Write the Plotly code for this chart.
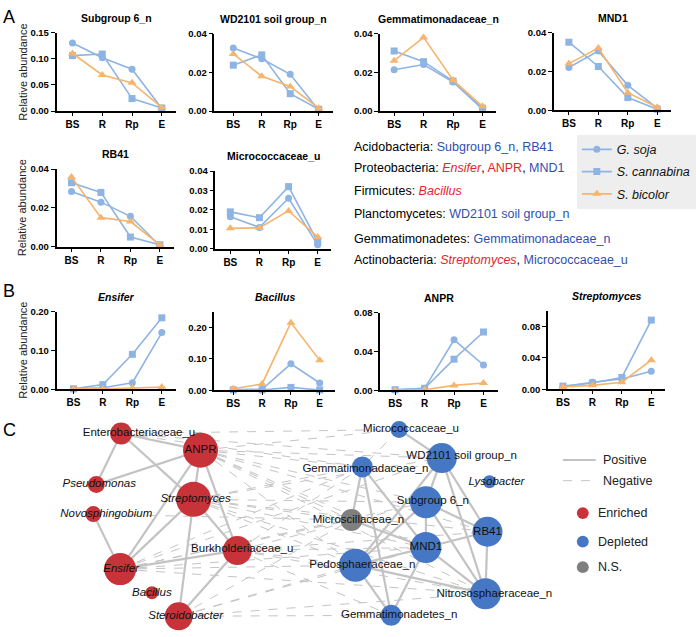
import plotly.graph_objects as go

W, H = 696, 637
FONT = "Arial, Liberation Sans, sans-serif"

# ---------------- data ----------------
stages = ["BS", "R", "Rp", "E"]
species = ["<i>G. soja</i>", "<i>S. cannabina</i>", "<i>S. bicolor</i>"]

subgroup6_soja = [0.130, 0.102, 0.080, 0.005]
subgroup6_cann = [0.106, 0.109, 0.024, 0.006]
subgroup6_bic = [0.110, 0.069, 0.054, 0.007]

wd2101_soja = [0.0325, 0.027, 0.019, 0.0005]
wd2101_cann = [0.0237, 0.029, 0.009, 0.001]
wd2101_bic = [0.0295, 0.018, 0.0127, 0.0015]

gemmaceae_soja = [0.0213, 0.024, 0.015, 0.001]
gemmaceae_cann = [0.031, 0.0255, 0.0155, 0.0015]
gemmaceae_bic = [0.026, 0.038, 0.016, 0.0025]

mnd1_soja = [0.022, 0.0305, 0.0128, 0.001]
mnd1_cann = [0.035, 0.0225, 0.0065, 0.0005]
mnd1_bic = [0.024, 0.032, 0.009, 0.0015]

rb41_soja = [0.0285, 0.023, 0.0157, 0.0005]
rb41_cann = [0.033, 0.028, 0.005, 0.001]
rb41_bic = [0.036, 0.015, 0.013, 0.001]

micro_soja = [0.0165, 0.011, 0.026, 0.002]
micro_cann = [0.019, 0.016, 0.032, 0.0035]
micro_bic = [0.0105, 0.0108, 0.0195, 0.006]

ensifer_soja = [0.001, 0.004, 0.017, 0.146]
ensifer_cann = [0.001, 0.012, 0.090, 0.184]
ensifer_bic = [0.001, 0.001, 0.003, 0.006]

bacillus_soja = [0.002, 0.003, 0.084, 0.023]
bacillus_cann = [0.001, 0.001, 0.009, 0.001]
bacillus_bic = [0.005, 0.020, 0.215, 0.095]

anpr_soja = [0.0005, 0.002, 0.052, 0.026]
anpr_cann = [0.0005, 0.002, 0.032, 0.060]
anpr_bic = [0.0005, 0.0005, 0.005, 0.0075]

strepto_soja = [0.003, 0.009, 0.013, 0.023]
strepto_cann = [0.004, 0.008, 0.015, 0.088]
strepto_bic = [0.003, 0.005, 0.009, 0.037]

panel_titles = ["<b>Subgroup 6_n</b>", "<b>WD2101 soil group_n</b>", "<b>Gemmatimonadaceae_n</b>",
                "<b>MND1</b>", "<b>RB41</b>", "<b>Micrococcaceae_u</b>",
                "<b><i>Ensifer</i></b>", "<b><i>Bacillus</i></b>", "<b>ANPR</b>",
                "<b><i>Streptomyces</i></b>"]
panel_series = [
    (subgroup6_soja, subgroup6_cann, subgroup6_bic),
    (wd2101_soja, wd2101_cann, wd2101_bic),
    (gemmaceae_soja, gemmaceae_cann, gemmaceae_bic),
    (mnd1_soja, mnd1_cann, mnd1_bic),
    (rb41_soja, rb41_cann, rb41_bic),
    (micro_soja, micro_cann, micro_bic),
    (ensifer_soja, ensifer_cann, ensifer_bic),
    (bacillus_soja, bacillus_cann, bacillus_bic),
    (anpr_soja, anpr_cann, anpr_bic),
    (strepto_soja, strepto_cann, strepto_bic),
]
panel_ymax = [0.15, 0.04, 0.04, 0.04, 0.04, 0.04, 0.20, 0.25, 0.08, 0.10]
panel_yticks = [[0, 0.05, 0.10, 0.15], [0, 0.02, 0.04], [0, 0.02, 0.04], [0, 0.02, 0.04],
                [0, 0.02, 0.04], [0, 0.01, 0.02, 0.03, 0.04], [0, 0.10, 0.20],
                [0, 0.10, 0.20], [0, 0.04, 0.08], [0, 0.04, 0.08]]

# network data
node_names = ["Enterobacteriaceae_u", "ANPR", "Pseudomonas", "Novosphingobium", "Streptomyces",
              "Burkholderiaceae_u", "Ensifer", "Bacillus", "Steroidobacter",
              "Micrococcaceae_u", "WD2101 soil group_n", "Gemmatimonadaceae_n", "Lysobacter",
              "Subgroup 6_n", "Microscillaceae_n", "RB41", "MND1", "Pedosphaeraceae_n",
              "Nitrososphaeraceae_n", "Gemmatimonadetes_n"]
node_status = ["Enriched"] * 9 + ["Depleted"] * 5 + ["N.S."] + ["Depleted"] * 5
node_italic = [False, False, True, True, True, False, True, True, True,
               False, False, False, True, False, False, False, False, False, False, False]
node_degree_size = [22, 35, 17, 16, 35, 29, 32, 13, 28,
                    17, 30, 21, 13, 32, 22, 30, 31, 33, 31, 21]
node_x = [122, 202, 97, 94, 195, 239, 121, 153, 180,
          402, 445, 365, 493, 429, 354, 491, 429, 358, 489, 394]
node_y = [435, 452, 487, 517, 502, 554, 573, 597, 621,
          431, 460, 469, 484, 505, 523, 535, 551, 569, 598, 620]
label_x = [140, 202, 100, 107, 197, 244, 122, 153, 187,
           414, 465, 368, 500, 436, 361, 491, 429, 365, 498, 402]
label_y = [435, 452, 487, 517, 502, 553, 573, 597, 621,
           431, 458, 471, 484, 504, 523, 535, 551, 569, 598, 620]

positive_edges = [
    ("Enterobacteriaceae_u", "ANPR"), ("Enterobacteriaceae_u", "Pseudomonas"),
    ("Enterobacteriaceae_u", "Streptomyces"), ("ANPR", "Pseudomonas"), ("ANPR", "Ensifer"),
    ("ANPR", "Streptomyces"), ("ANPR", "Burkholderiaceae_u"), ("Streptomyces", "Burkholderiaceae_u"),
    ("Streptomyces", "Ensifer"), ("Streptomyces", "Steroidobacter"), ("Novosphingobium", "Ensifer"),
    ("Ensifer", "Burkholderiaceae_u"), ("Burkholderiaceae_u", "Steroidobacter"),
    ("Micrococcaceae_u", "WD2101 soil group_n"), ("WD2101 soil group_n", "Subgroup 6_n"),
    ("WD2101 soil group_n", "RB41"), ("WD2101 soil group_n", "Nitrososphaeraceae_n"),
    ("WD2101 soil group_n", "Pedosphaeraceae_n"), ("Gemmatimonadaceae_n", "Microscillaceae_n"),
    ("Gemmatimonadaceae_n", "MND1"), ("Gemmatimonadaceae_n", "Gemmatimonadetes_n"),
    ("Subgroup 6_n", "MND1"), ("Subgroup 6_n", "RB41"), ("Subgroup 6_n", "Nitrososphaeraceae_n"),
    ("Subgroup 6_n", "Pedosphaeraceae_n"), ("MND1", "RB41"), ("MND1", "Pedosphaeraceae_n"),
    ("MND1", "Nitrososphaeraceae_n"), ("RB41", "Nitrososphaeraceae_n"),
    ("Pedosphaeraceae_n", "Nitrososphaeraceae_n"), ("Pedosphaeraceae_n", "Gemmatimonadetes_n"),
    ("MND1", "Gemmatimonadetes_n"), ("Microscillaceae_n", "MND1"),
]
negative_edges = [
    ("ANPR", "Micrococcaceae_u"), ("ANPR", "WD2101 soil group_n"), ("ANPR", "Gemmatimonadaceae_n"),
    ("ANPR", "Subgroup 6_n"), ("ANPR", "MND1"), ("ANPR", "RB41"), ("ANPR", "Pedosphaeraceae_n"),
    ("ANPR", "Microscillaceae_n"), ("ANPR", "Nitrososphaeraceae_n"),
    ("Enterobacteriaceae_u", "Gemmatimonadaceae_n"), ("Enterobacteriaceae_u", "WD2101 soil group_n"),
    ("Enterobacteriaceae_u", "Micrococcaceae_u"),
    ("Streptomyces", "WD2101 soil group_n"), ("Streptomyces", "Gemmatimonadaceae_n"),
    ("Streptomyces", "Subgroup 6_n"), ("Streptomyces", "MND1"), ("Streptomyces", "Pedosphaeraceae_n"),
    ("Streptomyces", "RB41"), ("Streptomyces", "Microscillaceae_n"), ("Streptomyces", "Nitrososphaeraceae_n"),
    ("Burkholderiaceae_u", "Subgroup 6_n"), ("Burkholderiaceae_u", "MND1"),
    ("Burkholderiaceae_u", "Pedosphaeraceae_n"), ("Burkholderiaceae_u", "Nitrososphaeraceae_n"),
    ("Burkholderiaceae_u", "Gemmatimonadetes_n"), ("Burkholderiaceae_u", "Gemmatimonadaceae_n"),
    ("Burkholderiaceae_u", "RB41"),
    ("Ensifer", "Gemmatimonadaceae_n"), ("Ensifer", "Subgroup 6_n"), ("Ensifer", "MND1"),
    ("Ensifer", "Pedosphaeraceae_n"), ("Ensifer", "Microscillaceae_n"), ("Ensifer", "Nitrososphaeraceae_n"),
    ("Ensifer", "WD2101 soil group_n"),
    ("Steroidobacter", "Pedosphaeraceae_n"), ("Steroidobacter", "Gemmatimonadetes_n"),
    ("Steroidobacter", "Nitrososphaeraceae_n"), ("Steroidobacter", "MND1"),
    ("Steroidobacter", "Microscillaceae_n"), ("Novosphingobium", "Microscillaceae_n"),
    ("Micrococcaceae_u", "Gemmatimonadaceae_n"),
]

# ---------------- styles / geometry ----------------
BLUE = "#8db4e3"
ORANGE = "#f6b46c"
series_colors = [BLUE, BLUE, ORANGE]
series_symbols = ["circle", "square", "triangle-up"]
status_colors = {"Enriched": "#c8333a", "Depleted": "#4677c4", "N.S.": "#7f7f7f"}
TXT_BLUE = "#2f4fae"
TXT_RED = "#e2262c"

# pixel geometry per panel: (yaxis x, BS x, E x, right end x, zero y, top y)
geom = [
    (57, 73, 163, 177, 107, 27), (216, 235, 321, 335, 107, 28),
    (383, 397, 486, 500, 107, 28), (558, 573, 662, 676, 106, 27),
    (57, 72, 161, 175, 245, 166), (217, 232, 320, 333, 247, 168),
    (57, 74, 163, 177, 390, 311), (216, 235, 322, 337, 391, 311),
    (383, 398, 487, 502, 391, 312), (552, 567, 656, 670, 390, 310),
]

fig = go.Figure()
layout = {}
annotations = []

for i, (series, (ax, bs, ex, rx, y0, yt)) in enumerate(zip(panel_series, geom)):
    n = i + 1
    sfx = "" if n == 1 else str(n)
    step = (ex - bs) / 3
    r0 = -(bs - ax) / step
    r1 = 3 + (rx - ex) / step
    ymax = panel_ymax[i]
    for k, vals in enumerate(series):
        fig.add_trace(go.Scatter(
            x=stages, y=vals, mode="lines+markers", name=species[k],
            line=dict(color=series_colors[k], width=1.6),
            marker=dict(symbol=series_symbols[k], size=7 if k < 2 else 8, color=series_colors[k]),
            xaxis="x" + sfx, yaxis="y" + sfx, showlegend=(i == 0), cliponaxis=False,
            legendgroup=f"sp{k}", legendrank=k,
        ))
    layout["xaxis" + sfx] = dict(
        domain=[ax / W, rx / W], anchor="y" + sfx, type="category",
        categoryorder="array", categoryarray=stages, range=[r0, r1],
        showline=True, linecolor="black", linewidth=1.6, ticks="outside", ticklen=3,
        tickwidth=1.3, tickcolor="black", showgrid=False, zeroline=False,
        tickfont=dict(family=FONT, size=10, color="black", weight="bold"),
    )
    layout["yaxis" + sfx] = dict(
        domain=[1 - y0 / H, 1 - yt / H], anchor="x" + sfx, range=[0, ymax],
        tickvals=panel_yticks[i], tickformat=".2f",
        showline=True, linecolor="black", linewidth=1.6, ticks="outside", ticklen=4,
        tickwidth=1.3, tickcolor="black", showgrid=False, zeroline=False,
        tickfont=dict(family=FONT, size=9.5, color="black", weight="bold"),
    )
    annotations.append(dict(
        x=(ax + rx) / 2 / W, y=1 - (yt - 15) / H, xref="paper", yref="paper",
        text=panel_titles[i], showarrow=False, xanchor="center", yanchor="middle",
        font=dict(family=FONT, size=10.5, color="black"),
    ))

# y-axis titles
for yc in [67, 205, 350]:
    annotations.append(dict(x=23 / W, y=1 - yc / H, xref="paper", yref="paper",
                            text="Relative abundance", textangle=-90, showarrow=False,
                            xanchor="center", yanchor="middle",
                            font=dict(family=FONT, size=11, color="#222")))
# panel letters
for letter, yy in [("A", 11), ("B", 290), ("C", 431)]:
    annotations.append(dict(x=1 / W, y=1 - yy / H, xref="paper", yref="paper", text=letter,
                            showarrow=False, xanchor="left", yanchor="middle",
                            font=dict(family=FONT, size=18, color="black")))

# phylum text block
phyla_lines = [
    ("Acidobacteria: ", [("Subgroup 6_n, RB41", TXT_BLUE, False)]),
    ("Proteobacteria: ", [("Ensifer", TXT_RED, True), (", ", "black", False), ("ANPR", TXT_RED, False),
                          (", ", "black", False), ("MND1", TXT_BLUE, False)]),
    ("Firmicutes: ", [("Bacillus", TXT_RED, True)]),
    ("Planctomycetes: ", [("WD2101 soil group_n", TXT_BLUE, False)]),
    ("Gemmatimonadetes: ", [("Gemmatimonadaceae_n", TXT_BLUE, False)]),
    ("Actinobacteria: ", [("Streptomyces", TXT_RED, True), (", ", "black", False),
                          ("Micrococcaceae_u", TXT_BLUE, False)]),
]
phyla_y = [143, 165, 188, 212, 237, 258]
for (head, parts), yy in zip(phyla_lines, phyla_y):
    t = head
    for s, c, it in parts:
        s2 = f"<i>{s}</i>" if it else s
        t += f"<span style='color:{c}'>{s2}</span>"
    annotations.append(dict(x=355 / W, y=1 - yy / H, xref="paper", yref="paper", text=t,
                            showarrow=False, xanchor="left", yanchor="middle",
                            font=dict(family=FONT, size=12.5, color="black")))

# ---------------- network ----------------
idx = {nm: j for j, nm in enumerate(node_names)}


def edge_xy(edges):
    xs, ys = [], []
    for a, b in edges:
        xs += [node_x[idx[a]], node_x[idx[b]], None]
        ys += [node_y[idx[a]], node_y[idx[b]], None]
    return xs, ys


nx_, ny_ = edge_xy(negative_edges)
fig.add_trace(go.Scatter(x=nx_, y=ny_, mode="lines", xaxis="x11", yaxis="y11", showlegend=False,
                         line=dict(color="#c4c4c4", width=1, dash="dash"), hoverinfo="skip"))
px_, py_ = edge_xy(positive_edges)
fig.add_trace(go.Scatter(x=px_, y=py_, mode="lines", xaxis="x11", yaxis="y11", showlegend=False,
                         line=dict(color="#c3c3c3", width=2.2), hoverinfo="skip"))
fig.add_trace(go.Scatter(
    x=node_x, y=node_y, mode="markers", xaxis="x11", yaxis="y11", showlegend=False,
    marker=dict(size=node_degree_size, color=[status_colors[s] for s in node_status],
                opacity=1, line=dict(width=0)),
    cliponaxis=False, hoverinfo="skip"))
fig.add_trace(go.Scatter(
    x=label_x, y=label_y, mode="text", xaxis="x11", yaxis="y11", showlegend=False,
    text=[f"<i>{n}</i>" if it else n for n, it in zip(node_names, node_italic)],
    textposition="middle center", textfont=dict(family=FONT, size=11.5, color="#111"),
    cliponaxis=False, hoverinfo="skip"))

layout["xaxis11"] = dict(domain=[0, 1], range=[0, W], anchor="y11", visible=False)
layout["yaxis11"] = dict(domain=[0, 1], range=[H, 0], anchor="x11", visible=False)

# network legend glyphs
shapes = [
    dict(type="line", xref="x11", yref="y11", x0=567, x1=600, y0=462, y1=462,
         line=dict(color="#c3c3c3", width=2.2)),
    dict(type="line", xref="x11", yref="y11", x0=567, x1=600, y0=483, y1=483,
         line=dict(color="#c4c4c4", width=1, dash="dash")),
]
for st, yy in [("Enriched", 516), ("Depleted", 545), ("N.S.", 571)]:
    shapes.append(dict(type="circle", xref="x11", yref="y11", x0=581, x1=593, y0=yy - 6, y1=yy + 6,
                       fillcolor=status_colors[st], line=dict(width=0)))
for txt, xx, yy in [("Positive", 605, 462), ("Negative", 605, 483), ("Enriched", 600, 516),
                    ("Depleted", 600, 545), ("N.S.", 600, 571)]:
    annotations.append(dict(x=xx, y=yy, xref="x11", yref="y11", text=txt, showarrow=False,
                            xanchor="left", yanchor="middle",
                            font=dict(family=FONT, size=12.5, color="#222")))

fig.update_layout(
    width=W, height=H, margin=dict(l=0, r=0, t=0, b=0),
    paper_bgcolor="white", plot_bgcolor="rgba(0,0,0,0)",
    showlegend=True,
    legend=dict(x=581 / W, y=1 - 131 / H, xanchor="left", yanchor="top",
                bgcolor="#eeeeee", font=dict(family=FONT, size=12.5, color="#111"),
                itemwidth=30, tracegroupgap=3),
    annotations=annotations, shapes=shapes, **layout,
)

fig.write_html("out.html", config={"displayModeBar": False},
               post_script="document.body.style.margin='0';document.body.style.padding='0';")
